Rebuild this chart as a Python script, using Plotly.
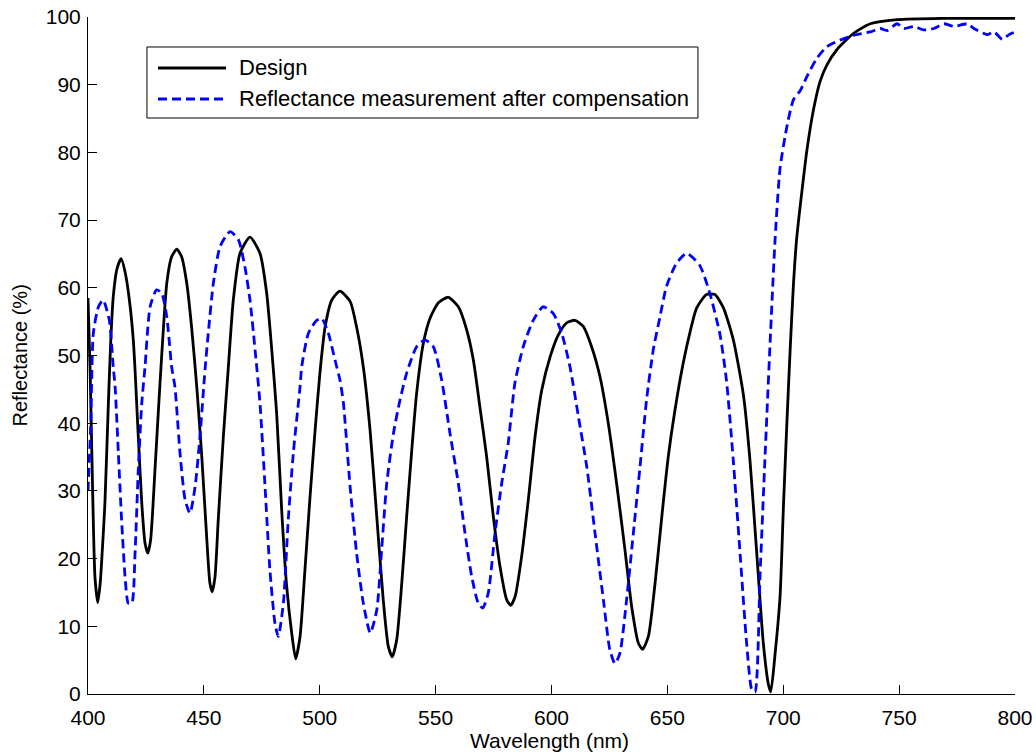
import plotly.graph_objects as go

# ---- Data ----
design_wl = [400.0, 400.9, 402.0, 403.0, 404.2, 405.3, 406.3, 407.3, 408.8, 409.8, 410.9, 412.5, 414.3, 416.2,
             418.1, 419.5, 420.3, 421.7, 423.2, 424.6, 425.8, 427.0, 428.9, 430.4, 431.8, 434.0, 436.1, 438.3,
             440.4, 442.6, 444.7, 446.9, 449.0, 451.2, 452.6, 453.6, 454.8, 456.2, 458.4, 460.5, 462.7, 465.6,
             469.9, 474.2, 477.1, 479.3, 481.4, 483.6, 485.7, 487.9, 489.6, 491.5, 493.6, 495.8, 498.0, 500.1,
             502.3, 505.2, 508.7, 513.1, 515.9, 518.8, 521.7, 524.6, 527.4, 529.6, 531.3, 533.2, 535.4, 537.5,
             539.7, 541.8, 544.7, 547.6, 551.2, 555.5, 559.8, 563.4, 566.3, 569.1, 572.0, 574.9, 577.8, 580.7,
             582.4, 584.3, 587.1, 590.0, 592.9, 595.8, 599.4, 602.9, 606.5, 610.1, 613.7, 617.3, 620.9, 624.5,
             628.1, 631.7, 634.6, 637.5, 639.3, 641.8, 644.7, 647.6, 650.4, 653.3, 656.9, 659.8, 662.6, 666.9,
             670.5, 674.1, 678.4, 682.8, 685.6, 688.5, 691.4, 693.6, 694.6, 696.5, 698.6, 700.1, 701.5, 703.0,
             704.4, 705.8, 708.0, 710.2, 713.1, 715.9, 718.8, 723.2, 730.4, 737.6, 749.1, 769.3, 800.0]
design_r = [58.5, 47.9, 30.0, 17.3, 13.5, 16.5, 22.0, 28.2, 43.0, 52.0, 58.7, 62.8, 64.3, 62.0,
            57.5, 52.5, 47.9, 38.0, 28.2, 22.3, 20.8, 22.7, 33.1, 42.0, 50.0, 60.7, 64.6, 65.7,
            64.6, 60.7, 54.2, 45.5, 35.6, 23.2, 16.4, 15.1, 17.3, 25.7, 38.0, 48.0, 58.2, 65.1,
            67.5, 65.1, 59.2, 50.8, 41.5, 27.0, 16.0, 9.0, 5.2, 8.5, 18.3, 29.1, 39.0, 47.5,
            54.2, 58.2, 59.5, 58.0, 54.2, 48.3, 39.0, 26.2, 13.9, 7.0, 5.5, 8.0, 16.4, 26.2,
            36.0, 44.4, 51.8, 55.5, 57.8, 58.6, 57.2, 53.8, 49.3, 42.4, 35.1, 26.2, 18.8, 13.9,
            13.1, 14.4, 20.3, 28.7, 38.0, 44.9, 49.8, 53.0, 54.8, 55.2, 54.3, 51.3, 46.9, 40.0,
            31.1, 21.3, 12.9, 7.5, 6.6, 8.5, 16.4, 26.2, 35.1, 42.0, 49.0, 53.5, 57.0, 59.0,
            59.0, 57.1, 52.4, 44.2, 34.7, 21.1, 7.5, 1.4, 0.3, 6.0, 14.3, 27.9, 39.5, 51.0,
            60.5, 67.3, 74.1, 80.3, 86.4, 90.5, 92.9, 95.2, 97.6, 99.0, 99.6, 99.8, 99.8]

meas_wl = [400.0, 401.2, 402.3, 404.5, 406.5, 409.2, 410.9, 411.7, 413.1, 414.5, 416.0, 417.4, 418.9, 420.3,
           421.7, 423.2, 424.6, 426.8, 429.6, 431.8, 434.0, 436.1, 437.5, 439.7, 441.9, 444.0, 446.2, 448.3,
           450.5, 451.9, 454.1, 457.0, 461.3, 464.9, 467.7, 469.9, 472.1, 474.2, 476.4, 478.5, 480.7, 482.1,
           484.3, 486.4, 488.6, 491.5, 492.2, 495.1, 498.7, 500.8, 503.7, 506.6, 508.7, 510.2, 513.1, 515.9,
           518.8, 521.8, 524.6, 526.7, 528.9, 531.8, 534.6, 537.5, 541.8, 545.4, 549.0, 552.6, 556.2, 559.8,
           562.7, 565.6, 568.4, 570.3, 572.7, 575.6, 578.5, 581.3, 584.2, 587.8, 592.1, 596.4, 600.8, 604.4,
           608.0, 611.6, 615.2, 618.8, 622.4, 625.2, 627.4, 629.5, 632.4, 635.3, 638.2, 641.0, 643.9, 646.8,
           649.6, 653.9, 658.3, 664.0, 668.3, 672.7, 675.5, 678.4, 681.3, 684.2, 686.4, 687.8, 690.0, 692.1,
           694.3, 696.5, 698.6, 701.5, 704.4, 707.3, 710.2, 714.5, 718.8, 724.6, 730.4, 737.6, 741.9, 744.8,
           749.1, 752.0, 756.3, 760.6, 765.0, 769.3, 773.7, 779.4, 782.3, 788.0, 790.9, 794.5, 797.4, 800.0]
meas_r = [30.0, 40.0, 53.3, 57.2, 58.2, 55.2, 48.3, 45.4, 35.6, 25.7, 17.3, 13.4, 13.4, 20.8,
          33.1, 43.0, 48.3, 57.2, 59.7, 59.2, 55.7, 48.3, 45.4, 35.6, 28.7, 26.7, 30.6, 38.0,
          47.9, 53.3, 60.7, 66.1, 68.3, 67.1, 63.1, 58.2, 50.8, 43.0, 30.6, 18.3, 10.4, 8.5,
          13.4, 25.7, 35.6, 45.4, 48.3, 53.3, 55.2, 55.5, 53.3, 49.3, 46.4, 43.0, 30.6, 20.8,
          13.4, 9.0, 12.4, 21.3, 31.1, 38.5, 43.4, 47.4, 51.3, 52.3, 51.3, 46.4, 38.5, 31.1,
          23.7, 17.3, 13.4, 12.7, 14.9, 23.7, 31.1, 37.0, 45.9, 51.3, 55.2, 57.2, 56.2, 53.3,
          48.3, 41.0, 33.6, 23.7, 13.9, 6.5, 4.5, 6.0, 13.9, 23.7, 33.6, 43.4, 50.8, 55.7,
          60.2, 63.6, 65.1, 63.3, 59.2, 53.1, 46.3, 34.7, 21.1, 7.5, 0.7, 0.3, 17.7, 34.7,
          51.7, 67.3, 77.6, 83.7, 87.8, 89.1, 91.2, 93.9, 95.6, 96.6, 97.3, 97.8, 98.3, 98.0,
          99.0, 98.3, 98.6, 98.1, 98.3, 99.0, 98.6, 99.0, 98.3, 97.4, 97.8, 96.7, 97.4, 97.8]

series_names = ["Design", "Reflectance measurement after compensation"]
x_ticks = [400, 450, 500, 550, 600, 650, 700, 750, 800]
y_ticks = [0, 10, 20, 30, 40, 50, 60, 70, 80, 90, 100]
x_title = "Wavelength (nm)"
y_title = "Reflectance (%)"

FONT = "Liberation Sans, Arial, Helvetica, sans-serif"
BLUE = "#0000FF"
FS_TICK = 21
FS_LEG = 22
FS_TITLE = 21

fig = go.Figure()
fig.add_trace(go.Scatter(x=design_wl, y=design_r, mode="lines", name=series_names[0],
                         line=dict(color="black", width=2.8, shape="spline", smoothing=0.6),
                         showlegend=False))
fig.add_trace(go.Scatter(x=meas_wl, y=meas_r, mode="lines", name=series_names[1],
                         line=dict(color=BLUE, width=2.8, dash="9px,5px", shape="spline", smoothing=0.6),
                         showlegend=False))

# Custom legend box (MATLAB style) in paper coordinates
fig.add_shape(type="rect", xref="paper", yref="paper", x0=0.0636, x1=0.658, y0=0.8508, y1=0.9557,
              line=dict(color="black", width=1), fillcolor="white", layer="above")
fig.add_shape(type="line", xref="paper", yref="paper", x0=0.0755, x1=0.1489, y0=0.9247, y1=0.9247,
              line=dict(color="black", width=2.8), layer="above")
fig.add_shape(type="line", xref="paper", yref="paper", x0=0.0755, x1=0.1489, y0=0.8789, y1=0.8789,
              line=dict(color=BLUE, width=2.8, dash="9px,5px"), layer="above")
for yy, txt in zip([0.9247, 0.8789], series_names):
    fig.add_annotation(xref="paper", yref="paper", x=0.1607, y=yy, text=txt, showarrow=False,
                       xanchor="left", yanchor="middle", font=dict(family=FONT, size=FS_LEG, color="black"))

# Axis titles
fig.add_annotation(xref="paper", yref="paper", x=0.498, y=-0.0694, text=x_title, showarrow=False,
                   xanchor="center", yanchor="middle", font=dict(family=FONT, size=FS_TITLE, color="black"))
fig.add_annotation(xref="paper", yref="paper", x=-0.0734, y=0.5, text=y_title, showarrow=False,
                   textangle=-90, xanchor="center", yanchor="middle",
                   font=dict(family=FONT, size=FS_TITLE - 1, color="black"))

fig.update_layout(
    width=1036, height=754,
    margin=dict(l=88, r=21, t=17, b=60, autoexpand=False),
    paper_bgcolor="white", plot_bgcolor="white",
    font=dict(family=FONT, size=FS_TICK, color="black"),
    showlegend=False,
)
fig.update_xaxes(range=[400, 800], tickvals=x_ticks, ticks="inside", ticklen=9, tickcolor="black",
                 showline=True, linecolor="black", linewidth=1, showgrid=False, zeroline=False,
                 automargin=False, tickfont=dict(size=FS_TICK), ticklabelstandoff=5,
                 ticklabeloverflow="allow")
fig.update_yaxes(range=[0, 100], tickvals=y_ticks, ticks="inside", ticklen=9, tickcolor="black",
                 showline=True, linecolor="black", linewidth=1, showgrid=False, zeroline=False,
                 automargin=False, tickfont=dict(size=FS_TICK), ticklabelstandoff=2,
                 ticklabeloverflow="allow")

# Remove the page's default body margin so the figure fills the 1036x754 window exactly
fig.write_html("out.html", config={"displayModeBar": False},
               post_script="document.body.style.margin='0';document.body.style.overflow='hidden';")
